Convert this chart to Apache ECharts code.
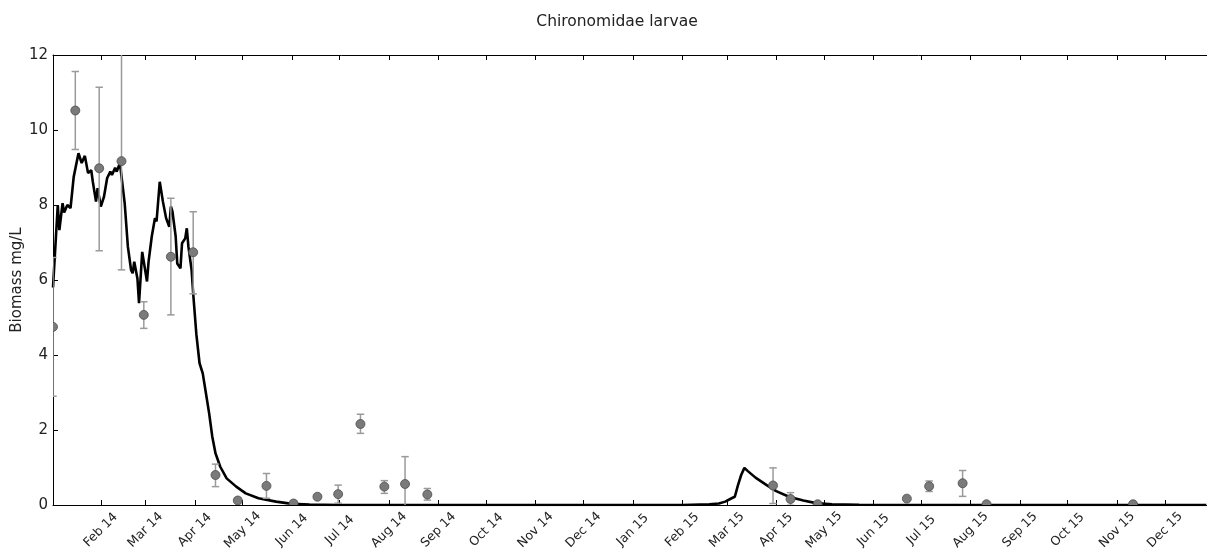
<!DOCTYPE html>
<html>
<head>
<meta charset="utf-8">
<script src="https://cdn.jsdelivr.net/npm/echarts@6/dist/echarts.min.js"></script>
<style>
  html, body { margin: 0; padding: 0; background: #ffffff; }
  #chart { width: 1207px; height: 553px; }
</style>
</head>
<body>
<div id="chart"></div>
<script>
// ---- Data ----
const chartTitle = 'Chironomidae larvae';
const yAxisTitle = 'Biomass mg/L';

// Model line (date, biomass mg/L)
const lineDates = [
  '2014-01-02','2014-01-05','2014-01-06','2014-01-08','2014-01-09','2014-01-11','2014-01-13','2014-01-15',
  '2014-01-18','2014-01-20','2014-01-22','2014-01-24','2014-01-26','2014-01-27','2014-01-29','2014-01-30',
  '2014-02-01','2014-02-03','2014-02-05','2014-02-07','2014-02-08','2014-02-10','2014-02-11','2014-02-13',
  '2014-02-14','2014-02-16','2014-02-18','2014-02-20','2014-02-21','2014-02-22','2014-02-24','2014-02-25',
  '2014-02-27','2014-02-28','2014-03-02','2014-03-03','2014-03-05','2014-03-07','2014-03-08','2014-03-10',
  '2014-03-12','2014-03-13','2014-03-14','2014-03-16','2014-03-17','2014-03-18','2014-03-20','2014-03-21',
  '2014-03-23','2014-03-24','2014-03-26','2014-03-27','2014-03-28','2014-03-30','2014-03-31','2014-04-02',
  '2014-04-04','2014-04-06','2014-04-08','2014-04-10','2014-04-12','2014-04-14','2014-04-17','2014-04-21',
  '2014-04-27','2014-05-03','2014-05-11','2014-05-22','2014-06-01','2014-06-12','2014-07-01','2014-10-01',
  '2015-01-01','2015-02-01','2015-02-18','2015-02-24','2015-02-28','2015-03-04','2015-03-06','2015-03-08',
  '2015-03-10','2015-03-12','2015-03-14','2015-03-19','2015-03-26','2015-04-01','2015-04-09','2015-04-18',
  '2015-04-26','2015-05-06','2015-05-23','2015-06-15','2015-09-01','2015-12-27'
];
const lineValues = [
  5.80, 8.00, 7.33, 8.05, 7.80, 8.00, 7.92, 8.75,
  9.38, 9.12, 9.31, 8.85, 8.93, 8.62, 8.09, 8.45,
  7.96, 8.22, 8.72, 8.89, 8.80, 8.99, 8.89, 9.12,
  9.12, 8.05, 6.89, 6.27, 6.18, 6.49, 6.04, 5.38,
  6.75, 6.70, 5.96, 6.49, 7.16, 7.65, 7.56, 8.62,
  8.09, 8.13, 7.65, 7.42, 7.96, 7.82, 7.16, 6.44,
  6.31, 6.98, 7.11, 7.38, 6.89, 6.27, 5.64, 4.55,
  3.78, 3.51, 2.98, 2.45, 1.82, 1.38, 1.02, 0.71,
  0.49, 0.31, 0.18, 0.09, 0.03, 0.01, 0.00, 0.00,
  0.00, 0.00, 0.02, 0.04, 0.09, 0.18, 0.22, 0.53,
  0.80, 0.99, 0.91, 0.73, 0.53, 0.37, 0.22, 0.12,
  0.05, 0.02, 0.005, 0.00, 0.00, 0.00
];

// Observations (date, mean, lower, upper)
const obsDates = [
  '2014-01-02','2014-01-16','2014-01-31','2014-02-14','2014-02-28','2014-03-17','2014-03-31','2014-04-14',
  '2014-04-28','2014-05-16','2014-06-02','2014-06-17','2014-06-30','2014-07-14','2014-07-29','2014-08-11',
  '2014-08-25','2015-03-30','2015-04-10','2015-04-27','2015-06-22','2015-07-06','2015-07-27','2015-08-11',
  '2015-11-11'
];
const obsValues = [
  4.75, 10.52, 8.98, 9.17, 5.07, 6.62, 6.74, 0.80,
  0.12, 0.51, 0.04, 0.22, 0.29, 2.16, 0.49, 0.56,
  0.28, 0.52, 0.16, 0.02, 0.17, 0.50, 0.58, 0.02,
  0.02
];
const obsLow = [
  2.90, 9.48, 6.78, 6.27, 4.71, 5.07, 5.63, 0.49,
  0.12, 0.18, 0.04, 0.22, 0.05, 1.91, 0.31, -0.17,
  0.13, 0.04, -0.01, 0.02, 0.17, 0.36, 0.23, 0.02,
  0.02
];
const obsHigh = [
  6.60, 11.56, 11.14, 12.10, 5.42, 8.18, 7.82, 1.09,
  0.12, 0.84, 0.04, 0.22, 0.53, 2.42, 0.65, 1.29,
  0.44, 0.99, 0.33, 0.02, 0.17, 0.64, 0.92, 0.02,
  0.02
];

// Axis ticks
const monthTickDates = [
  '2014-02-01','2014-03-01','2014-04-01','2014-05-01','2014-06-01','2014-07-01','2014-08-01','2014-09-01',
  '2014-10-01','2014-11-01','2014-12-01','2015-01-01','2015-02-01','2015-03-01','2015-04-01','2015-05-01',
  '2015-06-01','2015-07-01','2015-08-01','2015-09-01','2015-10-01','2015-11-01','2015-12-01'
];
const monthTickLabels = [
  'Feb 14','Mar 14','Apr 14','May 14','Jun 14','Jul 14','Aug 14','Sep 14',
  'Oct 14','Nov 14','Dec 14','Jan 15','Feb 15','Mar 15','Apr 15','May 15',
  'Jun 15','Jul 15','Aug 15','Sep 15','Oct 15','Nov 15','Dec 15'
];
const yTicks = [0, 2, 4, 6, 8, 10, 12];
const xStart = '2014-01-02T00:00:00Z';
const xEnd = '2015-12-27T10:00:00Z';

// ---- Build ----
const ts = s => Date.parse(s.length === 10 ? s + 'T00:00:00Z' : s);
const lineData = lineDates.map((d, i) => [ts(d), lineValues[i]]);
const obsData = obsDates.map((d, i) => [ts(d), obsValues[i], obsLow[i], obsHigh[i]]);
const tickValues = monthTickDates.map(ts);
const labelMap = {};
tickValues.forEach((t, i) => { labelMap[t] = monthTickLabels[i]; });

const FONT = 'DejaVu Sans';
const chart = echarts.init(document.getElementById('chart'), null, { renderer: 'canvas' });

const axisCommon = {
  type: 'value',
  min: ts(xStart),
  max: ts(xEnd),
  splitLine: { show: false },
  axisLine: { show: true, onZero: false, lineStyle: { color: '#000', width: 1 } }
};

chart.setOption({
  animation: false,
  backgroundColor: '#ffffff',
  title: {
    text: chartTitle,
    left: 612,
    top: 9,
    textAlign: 'center',
    textStyle: { fontFamily: FONT, fontSize: 15.5, fontWeight: 'normal', color: '#222' }
  },
  grid: { left: 53, right: 0, top: 55, bottom: 48, containLabel: false, outerBoundsMode: 'none' },
  xAxis: [
    Object.assign({}, axisCommon, {
      position: 'bottom',
      axisTick: { show: true, inside: true, length: 5, customValues: tickValues, lineStyle: { color: '#000' } },
      axisLabel: {
        show: true,
        customValues: tickValues,
        rotate: 45,
        align: 'center',
        verticalAlign: 'middle',
        margin: 25,
        fontFamily: FONT,
        fontSize: 12.5,
        color: '#222',
        formatter: v => labelMap[v] || ''
      }
    }),
    Object.assign({}, axisCommon, {
      position: 'top',
      axisTick: { show: true, inside: true, length: 5, customValues: tickValues, lineStyle: { color: '#000' } },
      axisLabel: { show: false }
    })
  ],
  yAxis: [{
    type: 'value',
    min: 0,
    max: 12,
    interval: 2,
    name: yAxisTitle,
    nameLocation: 'middle',
    nameGap: 28,
    nameMoveOverlap: false,
    nameRotate: 90,
    nameTextStyle: { fontFamily: FONT, fontSize: 15, color: '#222' },
    splitLine: { show: false },
    axisLine: { show: true, lineStyle: { color: '#000', width: 1 } },
    axisTick: { show: true, inside: true, length: 5, lineStyle: { color: '#000' } },
    axisLabel: {
      fontFamily: FONT, fontSize: 15, color: '#222', margin: 5,
      formatter: v => (yTicks.indexOf(v) >= 0 ? String(v) : '')
    }
  }],
  series: [
    {
      type: 'line',
      data: lineData,
      xAxisIndex: 0,
      yAxisIndex: 0,
      showSymbol: false,
      smooth: false,
      clip: true,
      lineStyle: { color: '#000', width: 2.6 },
      z: 2
    },
    {
      type: 'custom',
      data: obsData,
      xAxisIndex: 0,
      yAxisIndex: 0,
      clip: true,
      z: 3,
      encode: { x: 0, y: 1 },
      renderItem: function (params, api) {
        const x = api.value(0), y = api.value(1), lo = api.value(2), hi = api.value(3);
        const p = api.coord([x, y]);
        const pl = api.coord([x, lo]);
        const ph = api.coord([x, hi]);
        const children = [];
        const ebStyle = { stroke: '#9a9a9a', lineWidth: 1.5 };
        if (Math.abs(pl[1] - ph[1]) > 2) {
          children.push({ type: 'line', shape: { x1: p[0], y1: pl[1], x2: p[0], y2: ph[1] }, style: ebStyle });
          children.push({ type: 'line', shape: { x1: p[0] - 3.7, y1: pl[1], x2: p[0] + 3.7, y2: pl[1] }, style: ebStyle });
          children.push({ type: 'line', shape: { x1: p[0] - 3.7, y1: ph[1], x2: p[0] + 3.7, y2: ph[1] }, style: ebStyle });
        }
        children.push({
          type: 'circle',
          shape: { cx: p[0], cy: p[1], r: 4.5 },
          style: { fill: '#7a7a7a', stroke: '#4d4d4d', lineWidth: 0.8 }
        });
        return { type: 'group', children: children };
      }
    }
  ]
});
</script>
</body>
</html>
